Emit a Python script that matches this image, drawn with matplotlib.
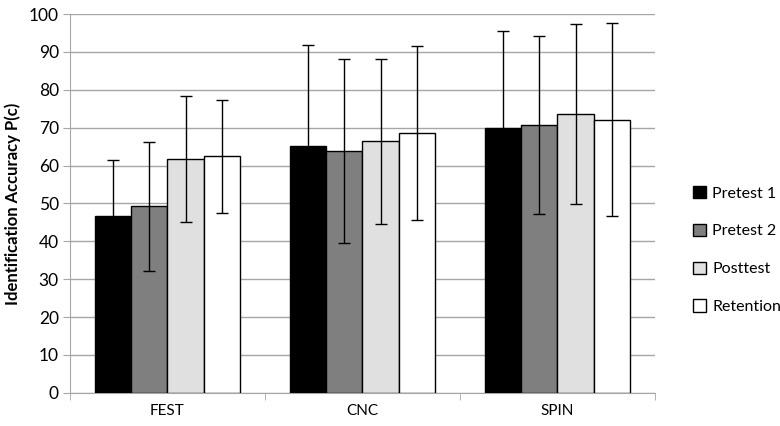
import matplotlib.pyplot as plt
import numpy as np

plt.rcParams['font.family'] = ['Lato', 'DejaVu Sans']

categories = ["FEST", "CNC", "SPIN"]
series = ["Pretest 1", "Pretest 2", "Posttest", "Retention"]
means = {
    "Pretest 1": [46.7, 65.1, 70.0],
    "Pretest 2": [49.2, 63.8, 70.6],
    "Posttest": [61.7, 66.4, 73.6],
    "Retention": [62.4, 68.6, 72.1],
}
errors = {
    "Pretest 1": [14.8, 26.7, 25.6],
    "Pretest 2": [17.0, 24.3, 23.5],
    "Posttest": [16.7, 21.8, 23.8],
    "Retention": [14.9, 23.0, 25.5],
}
colors = ["#000000", "#7f7f7f", "#e0e0e0", "#ffffff"]

fig = plt.figure(figsize=(7.8, 4.26), dpi=100)
ax = fig.add_axes([0.0897, 0.078, 0.75, 0.889])

x = np.arange(len(categories))
width = 0.185
for i, name in enumerate(series):
    pos = x + (i - 1.5) * width
    ax.bar(pos, means[name], width, color=colors[i], edgecolor="#000000",
           linewidth=1.0, label=name, zorder=3)
    ax.errorbar(pos, means[name], yerr=errors[name], fmt="none", ecolor="#000000",
                elinewidth=1.0, capsize=4, capthick=1.0, zorder=4)

ax.set_ylim(0, 100)
ax.set_xlim(-0.5, len(categories) - 0.5)
ax.set_yticks(np.arange(0, 101, 10))
ax.yaxis.grid(True, color="#a6a6a6", linewidth=1.0, zorder=0)
ax.set_axisbelow(True)

ax.set_xticks(x)
ax.set_xticklabels(categories, fontsize=11)
ax.tick_params(axis="x", length=0, pad=8)
ax.set_xticks(np.arange(-0.5, len(categories), 1), minor=True)
ax.tick_params(axis="x", which="minor", length=5, color="#a6a6a6", direction="out")
ax.tick_params(axis="y", length=5, color="#a6a6a6", labelsize=12.5, pad=3)

for side in ["top", "right"]:
    ax.spines[side].set_visible(False)
for side in ["left", "bottom"]:
    ax.spines[side].set_color("#a6a6a6")

ax.set_ylabel("Identification Accuracy P(c)", fontsize=12, fontweight="bold", labelpad=6)

ax.legend(loc="center left", bbox_to_anchor=(1.0, 0.377), frameon=False,
          fontsize=11.5, handlelength=0.8, handleheight=0.8, handletextpad=0.4,
          labelspacing=1.45, borderaxespad=2.0)

fig.savefig("out.png", dpi=100)
